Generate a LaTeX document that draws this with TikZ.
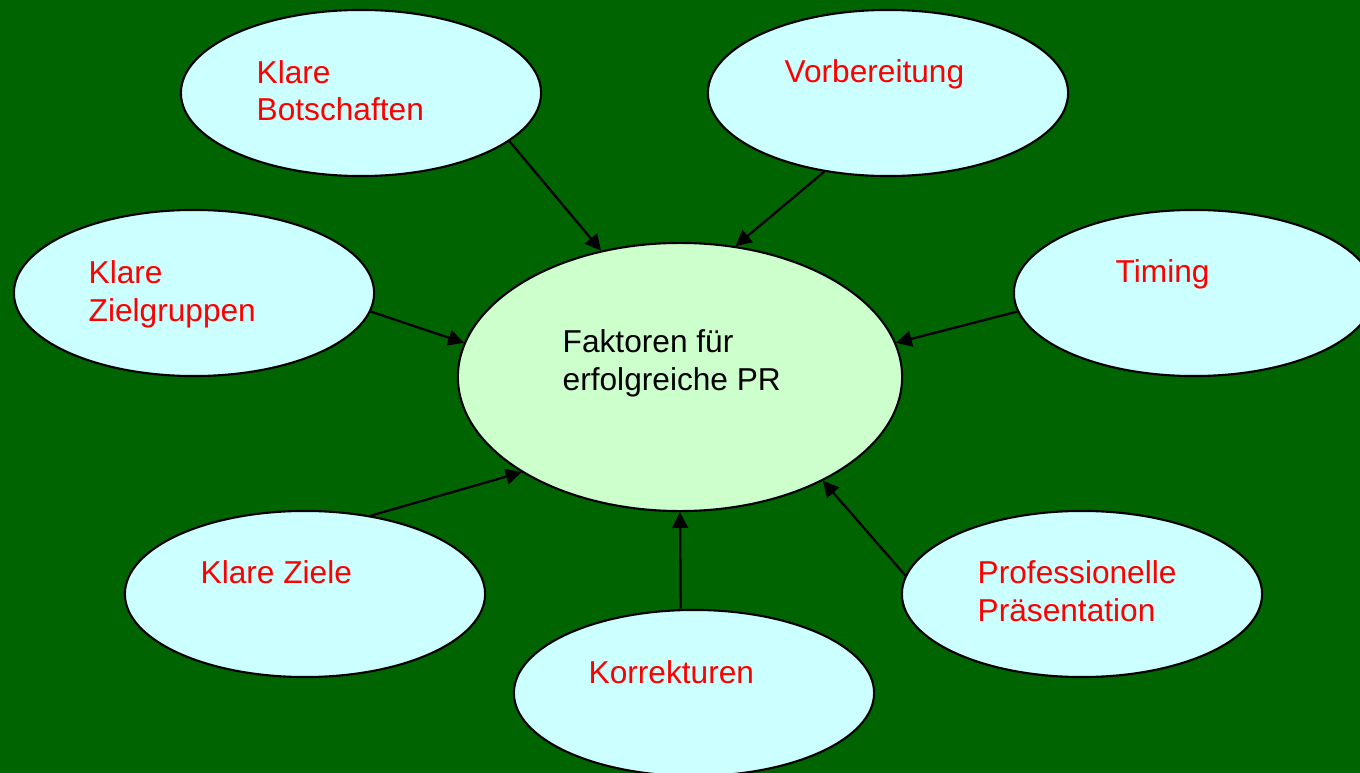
\documentclass[tikz,border=0pt]{standalone}
\usepackage{fontspec}
\setmainfont{Liberation Sans}
\usetikzlibrary{arrows.meta,shapes.geometric}
\definecolor{bggreen}{RGB}{0,100,0}
\definecolor{factorfill}{RGB}{204,255,255}
\definecolor{corefill}{RGB}{204,255,204}

\begin{document}
\begin{tikzpicture}[x=0.01cm,y=-0.01cm,
  factor/.style={ellipse,draw=black,line width=0.6pt,fill=factorfill,
    minimum width=3.6cm,minimum height=1.66cm,inner sep=0pt},
  core/.style={ellipse,draw=black,line width=0.6pt,fill=corefill,
    minimum width=4.44cm,minimum height=2.68cm,inner sep=0pt},
  lbl/.style={anchor=base west,align=left,inner sep=0pt,text=red,
    font=\fontsize{9}{10.8}\selectfont},
  toarrow/.style={line width=0.65pt,-{Triangle[length=4.5pt,width=4.5pt]}}]
\useasboundingbox (0,0) rectangle (1360,773);
\clip (0,0) rectangle (1360,773);
\fill[bggreen] (0,0) rectangle (1360,773);

\node[core] (pr) at (680,377) {};
\node[factor] (botsch) at (361,93) {};
\node[factor] (vorb) at (888,93) {};
\node[factor] (zielgr) at (194,293) {};
\node[factor] (timing) at (1194,293) {};
\node[factor] (ziele) at (305,594) {};
\node[factor] (korr) at (694,693) {};
\node[factor] (praes) at (1082,594) {};

% base = baseline of the last line
\node[lbl,text=black] (prtext) at (562,390) {Faktoren für\\erfolgreiche PR};
\node[lbl] (botschtext) at (256,121) {Klare\\Botschaften};
\node[lbl] (vorbtext) at (784,83) {Vorbereitung};
\node[lbl] (zielgrtext) at (88,321) {Klare\\Zielgruppen};
\node[lbl] (timingtext) at (1115,283) {Timing};
\node[lbl] (zieletext) at (200,583) {Klare Ziele};
\node[lbl] (korrtext) at (588,683) {Korrekturen};
\node[lbl] (praestext) at (977,621) {Professionelle\\Präsentation};

\draw[toarrow] (botsch.-18) -- (pr.122);
\draw[toarrow] (vorb.-129) -- (pr.67);
\draw[toarrow] (zielgr.-6) -- (pr.171);
\draw[toarrow] (timing.-174) -- (pr.9);
\draw[toarrow] (ziele.50) -- (pr.-149);
\draw[toarrow] (korr.99) -- (pr.-90);
\draw[toarrow] (praes.174) -- (pr.-36);
\end{tikzpicture}
\end{document}
